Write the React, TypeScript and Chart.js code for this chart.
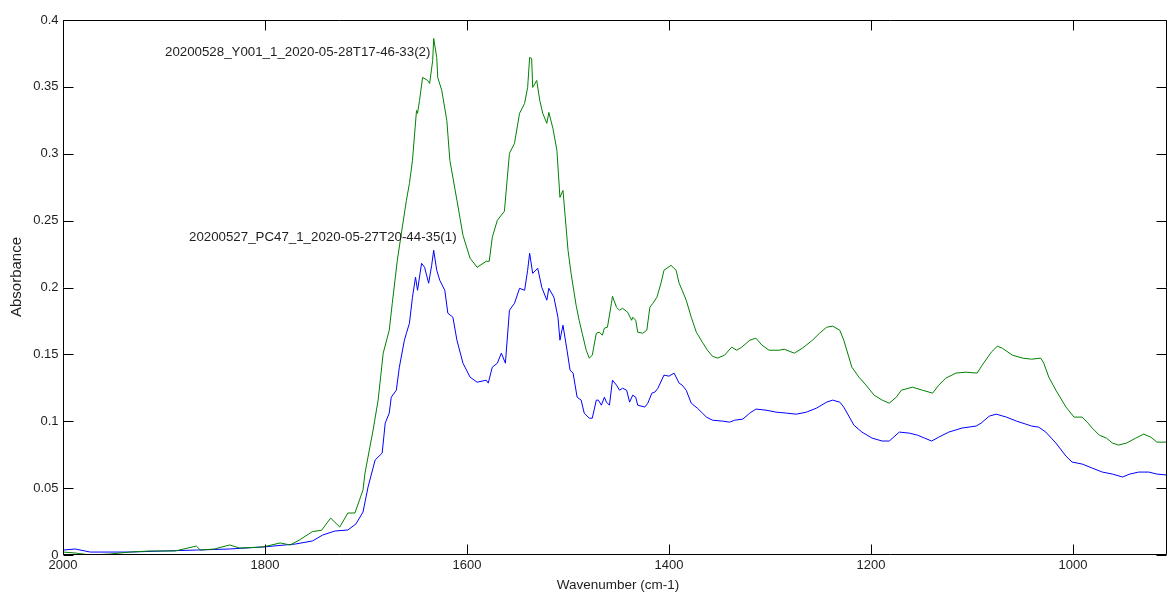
import React, { useEffect, useRef } from "react";
import { Chart, registerables } from "chart.js";

Chart.register(...registerables);

// Spectrum 2: 20200528_Y001 (green)
const greenWn = [
  2000, 1988, 1973, 1954, 1934, 1914, 1889, 1868, 1864, 1850, 1835, 1825, 1802, 1785, 1775, 1766,
  1753, 1744, 1735, 1726, 1718, 1711, 1703, 1701, 1693, 1688, 1683, 1677, 1674, 1669, 1665, 1660,
  1657, 1654, 1650, 1649, 1647, 1644, 1639, 1637, 1634, 1633, 1630, 1629, 1625, 1620, 1617, 1610,
  1604, 1597, 1590, 1581, 1578, 1575, 1570, 1563, 1558, 1553, 1548, 1543, 1540, 1538, 1536, 1535,
  1531, 1528, 1525, 1521, 1519, 1515, 1511, 1508, 1505, 1500, 1497, 1492, 1489, 1486, 1482, 1479,
  1476, 1472, 1469, 1466, 1464, 1461, 1457, 1456, 1452, 1449, 1446, 1441, 1437, 1436, 1433, 1431,
  1426, 1422, 1419, 1416, 1412, 1408, 1405, 1398, 1393, 1390, 1387, 1383, 1378, 1373, 1367, 1362,
  1357, 1352, 1345, 1338, 1333, 1328, 1320, 1314, 1308, 1301, 1291, 1286, 1276, 1268, 1258, 1251,
  1244, 1238, 1231, 1227, 1219, 1212, 1205, 1197, 1189, 1182, 1175, 1170, 1159, 1149, 1139, 1133,
  1126, 1116, 1106, 1095, 1090, 1081, 1075, 1070, 1060, 1050, 1041, 1032, 1029, 1024, 1017, 1007,
  999, 991, 986, 981, 974, 967, 961, 955, 947, 938, 930, 923, 917, 907,
];
const greenAbs = [
  0.0022, 0.0015, 0.0, 0.0007, 0.0022, 0.003, 0.003, 0.0067, 0.0037, 0.0045, 0.0075, 0.0052, 0.006, 0.009, 0.0075, 0.0112,
  0.0175, 0.0185, 0.0276, 0.0209, 0.0314, 0.0314, 0.0486, 0.0613, 0.0934, 0.1158, 0.1509, 0.1681, 0.1882, 0.2204, 0.2405, 0.2652,
  0.2779, 0.2951, 0.3324, 0.3302, 0.3399, 0.3571, 0.3548, 0.3526, 0.3697, 0.3862, 0.372, 0.3571, 0.3473, 0.3249, 0.2951, 0.2652,
  0.239, 0.2219, 0.2151, 0.2196, 0.2196, 0.2375, 0.2502, 0.257, 0.3003, 0.3078, 0.3302, 0.3376, 0.3496, 0.372, 0.3712, 0.3496,
  0.3548, 0.3399, 0.3302, 0.3227, 0.3309, 0.319, 0.3025, 0.2674, 0.2726, 0.2278, 0.2106, 0.1867, 0.1755, 0.1658, 0.1531, 0.1472,
  0.1494, 0.1658, 0.1666, 0.1643, 0.1696, 0.1703, 0.1882, 0.1935, 0.1852, 0.183, 0.1845, 0.1815, 0.1755, 0.1778, 0.1755, 0.1666,
  0.1658, 0.1681, 0.1852, 0.1882, 0.1927, 0.2032, 0.2129, 0.2166, 0.2129, 0.2032, 0.1979, 0.1905, 0.1778, 0.1666, 0.1591, 0.1531,
  0.1486, 0.1472, 0.1494, 0.1554, 0.1531, 0.1554, 0.1606, 0.1621, 0.1569, 0.1531, 0.1531, 0.1539, 0.1509, 0.1546, 0.1606, 0.1658,
  0.1703, 0.1711, 0.1681, 0.1606, 0.1404, 0.133, 0.127, 0.1195, 0.1158, 0.1135, 0.118, 0.1232, 0.1255, 0.1232, 0.121, 0.127,
  0.1322, 0.136, 0.1367, 0.136, 0.1419, 0.1516, 0.1561, 0.1546, 0.1494, 0.1472, 0.1464, 0.1472, 0.1434, 0.133, 0.1232, 0.1106,
  0.1031, 0.1031, 0.0993, 0.0949, 0.0896, 0.0874, 0.0837, 0.0822, 0.0837, 0.0874, 0.0904, 0.0881, 0.0844, 0.0844,
];

// Spectrum 1: 20200527_PC47 (blue)
const blueWn = [
  2000, 1988, 1973, 1934, 1901, 1868, 1835, 1802, 1770, 1753, 1743, 1731, 1718, 1710, 1703, 1698,
  1691, 1684, 1681, 1677, 1675, 1670, 1667, 1662, 1660, 1657, 1654, 1651, 1649, 1645, 1642, 1638,
  1635, 1633, 1630, 1627, 1622, 1619, 1614, 1610, 1604, 1597, 1590, 1581, 1579, 1575, 1570, 1566,
  1562, 1558, 1553, 1548, 1543, 1540, 1538, 1535, 1530, 1526, 1521, 1519, 1514, 1510, 1508, 1505,
  1501, 1498, 1495, 1491, 1487, 1484, 1479, 1476, 1472, 1470, 1467, 1464, 1462, 1459, 1456, 1452,
  1449, 1446, 1442, 1439, 1436, 1433, 1431, 1424, 1421, 1417, 1414, 1411, 1405, 1400, 1395, 1390,
  1387, 1383, 1378, 1372, 1367, 1363, 1357, 1347, 1340, 1335, 1327, 1320, 1314, 1304, 1294, 1284,
  1274, 1264, 1254, 1244, 1238, 1231, 1227, 1217, 1209, 1199, 1189, 1182, 1172, 1162, 1154, 1147,
  1140, 1133, 1123, 1110, 1096, 1091, 1083, 1076, 1066, 1056, 1047, 1041, 1034, 1027, 1017, 1007,
  1001, 991, 981, 971, 961, 951, 944, 935, 925, 917, 907,
];
const blueAbs = [
  0.0037, 0.0045, 0.0022, 0.0022, 0.003, 0.0037, 0.0045, 0.006, 0.0082, 0.0105, 0.0149, 0.0179, 0.0187, 0.0232, 0.0321, 0.0508,
  0.071, 0.0762, 0.0986, 0.1061, 0.118, 0.1232, 0.1404, 0.1606, 0.1658, 0.1733, 0.1927, 0.2077, 0.1979, 0.2181, 0.2151, 0.2032,
  0.2166, 0.2278, 0.2129, 0.2054, 0.1979, 0.1808, 0.1778, 0.1606, 0.1434, 0.133, 0.1292, 0.1307, 0.1285, 0.1404, 0.1434, 0.1509,
  0.1434, 0.183, 0.1882, 0.1994, 0.1979, 0.2129, 0.2256, 0.2106, 0.2144, 0.2002, 0.1905, 0.1994, 0.1927, 0.1778, 0.1606, 0.1718,
  0.1531, 0.1382, 0.136, 0.118, 0.1158, 0.1061, 0.1023, 0.1023, 0.1158, 0.1158, 0.112, 0.118, 0.1143, 0.112, 0.1307, 0.127,
  0.1232, 0.1247, 0.1232, 0.1143, 0.1195, 0.118, 0.112, 0.1106, 0.1135, 0.121, 0.1218, 0.1247, 0.1345, 0.1337, 0.136, 0.1285,
  0.127, 0.1232, 0.1135, 0.1098, 0.1061, 0.1031, 0.1008, 0.1001, 0.0993, 0.1008, 0.1016, 0.1061, 0.1091, 0.1083, 0.1068, 0.1061,
  0.1053, 0.1068, 0.1098, 0.1143, 0.1158, 0.1143, 0.1106, 0.0971, 0.0919, 0.0874, 0.0852, 0.0852, 0.0919, 0.0911, 0.0896, 0.0874,
  0.0852, 0.0881, 0.0919, 0.0949, 0.0964, 0.0986, 0.1038, 0.1053, 0.1031, 0.1001, 0.0979, 0.0964, 0.0956, 0.0919, 0.0837, 0.0739,
  0.0695, 0.068, 0.065, 0.062, 0.0605, 0.0583, 0.0605, 0.062, 0.062, 0.0605, 0.0598,
];

const xTicks = [2000, 1800, 1600, 1400, 1200, 1000];
const yTicks = [0, 0.05, 0.1, 0.15, 0.2, 0.25, 0.3, 0.35, 0.4];
const yTickLabels = ["0", "0.05", "0.1", "0.15", "0.2", "0.25", "0.3", "0.35", "0.4"];

const greenName = "20200528_Y001_1_2020-05-28T17-46-33(2)";
const blueName = "20200527_PC47_1_2020-05-27T20-44-35(1)";
const xTitle = "Wavenumber (cm-1)";
const yTitle = "Absorbance";

const FONT = '"Liberation Sans", Arial, sans-serif';
const TEXT = "#1e1e1e";

// Box frame, inward ticks on all four sides, tick labels, titles and trace names
const framePlugin = {
  id: "frame",
  afterDraw(chart: any) {
    const { ctx, chartArea } = chart;
    const xs = chart.scales.x;
    const ys = chart.scales.y;
    const l = Math.round(chartArea.left) + 0.5;
    const r = Math.round(chartArea.right) - 0.5;
    const t = Math.round(chartArea.top) + 0.5;
    const b = Math.round(chartArea.bottom) - 0.5;
    const tl = 10;

    ctx.save();
    ctx.strokeStyle = "#000";
    ctx.lineWidth = 1;
    ctx.beginPath();
    ctx.rect(l, t, r - l, b - t);
    ctx.stroke();

    ctx.beginPath();
    xTicks.forEach((v) => {
      const px = Math.round(xs.getPixelForValue(v)) + 0.5;
      ctx.moveTo(px, b);
      ctx.lineTo(px, b - tl);
      ctx.moveTo(px, t);
      ctx.lineTo(px, t + tl);
    });
    yTicks.forEach((v) => {
      const py = Math.round(ys.getPixelForValue(v)) + 0.5;
      ctx.moveTo(l, py);
      ctx.lineTo(l + tl, py);
      ctx.moveTo(r, py);
      ctx.lineTo(r - tl, py);
    });
    ctx.stroke();

    ctx.fillStyle = TEXT;
    ctx.font = `13px ${FONT}`;
    ctx.textBaseline = "middle";
    ctx.textAlign = "right";
    yTicks.forEach((v, i) => {
      ctx.fillText(yTickLabels[i], l - 5, ys.getPixelForValue(v));
    });
    ctx.textAlign = "center";
    ctx.textBaseline = "top";
    xTicks.forEach((v) => {
      ctx.fillText(String(v), xs.getPixelForValue(v), b + 4);
    });

    ctx.font = `13.5px ${FONT}`;
    ctx.textBaseline = "middle";
    ctx.fillText(xTitle, 618, 585);

    ctx.save();
    ctx.translate(17, 277);
    ctx.rotate(-Math.PI / 2);
    ctx.font = `15px ${FONT}`;
    ctx.fillText(yTitle, 0, 0);
    ctx.restore();

    ctx.font = `13.3px ${FONT}`;
    ctx.textAlign = "left";
    ctx.fillText(greenName, 165, 52);
    ctx.fillText(blueName, 189, 237);
    ctx.restore();
  },
};

export default function App() {
  const canvasRef = useRef<HTMLCanvasElement | null>(null);

  useEffect(() => {
    if (!canvasRef.current) return;
    const chart = new Chart(canvasRef.current, {
      type: "line",
      data: {
        datasets: [
          {
            label: greenName,
            data: greenWn.map((x, i) => ({ x, y: greenAbs[i] })),
            borderColor: "#008000",
            borderWidth: 1,
            pointRadius: 0,
            tension: 0,
          },
          {
            label: blueName,
            data: blueWn.map((x, i) => ({ x, y: blueAbs[i] })),
            borderColor: "#0000ff",
            borderWidth: 1,
            pointRadius: 0,
            tension: 0,
          },
        ],
      },
      options: {
        animation: false,
        responsive: false,
        devicePixelRatio: 1,
        layout: { padding: { left: 63, top: 20, right: 1, bottom: 37 } },
        plugins: {
          legend: { display: false },
          tooltip: { enabled: false },
        },
        scales: {
          x: { type: "linear", reverse: true, min: 907, max: 2000, display: false },
          y: { type: "linear", min: 0, max: 0.4, display: false },
        },
      },
      plugins: [framePlugin],
    });
    return () => chart.destroy();
  }, []);

  return (
    <div style={{ position: "fixed", left: 0, top: 0, width: 1168, height: 592, background: "#fff" }}>
      <canvas ref={canvasRef} width={1168} height={592} />
    </div>
  );
}
